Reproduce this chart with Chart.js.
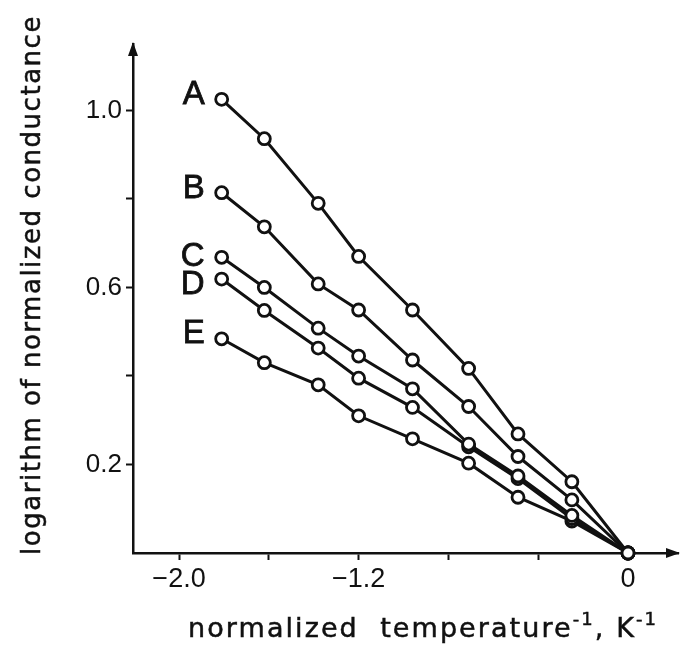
<!DOCTYPE html>
<html>
<head>
<meta charset="utf-8">
<script src="https://cdn.jsdelivr.net/npm/chart.js@4"></script>
<style>
  body { margin: 0; background: #fff; }
  #wrap { width: 700px; height: 661px; position: relative; }
</style>
</head>
<body>
<div id="wrap"><canvas id="chart"></canvas></div>
<script>
// values
const xValues = [-1.81, -1.62, -1.38, -1.20, -0.96, -0.71, -0.49, -0.25, 0];
const seriesNames = ["A", "B", "C", "D", "E"];
const seriesA = [1.025, 0.936, 0.790, 0.670, 0.549, 0.417, 0.269, 0.161, 0];
const seriesB = [0.814, 0.737, 0.608, 0.549, 0.436, 0.331, 0.218, 0.120, 0];
const seriesC = [0.668, 0.600, 0.508, 0.445, 0.371, 0.246, 0.174, 0.085, 0];
const seriesD = [0.619, 0.548, 0.463, 0.395, 0.329, 0.240, 0.168, 0.078, 0];
const seriesE = [0.484, 0.430, 0.380, 0.310, 0.258, 0.203, 0.126, 0.072, 0];

const xTickValues = [-2.0, -1.6, -1.2, -0.8, -0.4, 0];
const xTickLabels = ["\u22122.0", "", "\u22121.2", "", "", "0"];
const yTickValues = [0.2, 0.4, 0.6, 0.8, 1.0];
const yTickLabels = ["0.2", "", "0.6", "", "1.0"];

const yTitle = "logarithm of normalized conductance";
const xTitle = ["normalized  temperature", "-1", ", K", "-1"];

// nudges for the A..E letters (px)
const letterNudge = [-4, -4, 0, 6, -5];

const allSeries = [seriesA, seriesB, seriesC, seriesD, seriesE];
const ink = "#111";
const font = "'Liberation Sans', Arial, sans-serif";
const titleFont = "'DejaVu Sans', sans-serif";

function labelFor(values, labels, v) {
    const i = values.findIndex((t) => Math.abs(t - v) < 1e-6);
    return i < 0 ? "" : labels[i];
}

// draws the A-E letters, axis titles and arrow heads
const decorations = {
    id: "decorations",
    afterDatasetsDraw(chart) {
        const ctx = chart.ctx;
        const area = chart.chartArea;
        ctx.save();
        ctx.fillStyle = ink;
        ctx.strokeStyle = ink;

        // series letters
        ctx.font = "33px " + font;
        ctx.textAlign = "right";
        ctx.textBaseline = "middle";
        ctx.lineWidth = 0.8;
        seriesNames.forEach((name, i) => {
            const pt = chart.getDatasetMeta(i).data[0];
            ctx.fillText(name, pt.x - 17, pt.y + letterNudge[i]);
            ctx.strokeText(name, pt.x - 17, pt.y + letterNudge[i]);
        });

        // arrow heads
        ctx.beginPath();
        ctx.moveTo(area.left, area.top - 2);
        ctx.lineTo(area.left - 5, area.top + 12);
        ctx.lineTo(area.left + 5, area.top + 12);
        ctx.closePath();
        ctx.fill();
        ctx.beginPath();
        ctx.moveTo(area.right + 2, area.bottom);
        ctx.lineTo(area.right - 12, area.bottom - 5);
        ctx.lineTo(area.right - 12, area.bottom + 5);
        ctx.closePath();
        ctx.fill();

        ctx.lineWidth = 0.5;

        // y title, stretched to its length in the picture
        ctx.save();
        ctx.translate(33, 285);
        ctx.rotate(-Math.PI / 2);
        ctx.font = "26px " + titleFont;
        ctx.textAlign = "center";
        ctx.textBaseline = "middle";
        const w0 = ctx.measureText(yTitle).width;
        ctx.letterSpacing = ((540 - w0) / yTitle.length).toFixed(2) + "px";
        ctx.fillText(yTitle, 0, 0);
        ctx.strokeText(yTitle, 0, 0);
        ctx.restore();

        // x title with superscripts
        const sizes = [27, 18, 27, 18];
        const rise = [0, 12, 0, 12];
        ctx.textAlign = "left";
        ctx.textBaseline = "alphabetic";
        let total = 0, chars = 0;
        xTitle.forEach((s, i) => {
            ctx.font = sizes[i] + "px " + titleFont;
            total += ctx.measureText(s).width;
            chars += s.length;
        });
        ctx.letterSpacing = ((470 - total) / chars).toFixed(2) + "px";
        let x = 188;
        xTitle.forEach((s, i) => {
            ctx.font = sizes[i] + "px " + titleFont;
            ctx.fillText(s, x, 637 - rise[i]);
            ctx.strokeText(s, x, 637 - rise[i]);
            x += ctx.measureText(s).width;
        });
        ctx.restore();
    },
};

const ctx = document.getElementById("chart").getContext("2d");
new Chart(ctx, {
    type: "line",
    data: {
        datasets: allSeries.map((vals, i) => ({
            label: seriesNames[i],
            data: vals.map((y, j) => ({ x: xValues[j], y: y })),
            borderColor: ink,
            borderWidth: 3,
            pointRadius: 6,
            pointBorderWidth: 2.8,
            pointBackgroundColor: "#fff",
            pointBorderColor: ink,
            fill: false,
            tension: 0,
            clip: false,
        })),
    },
    options: {
        responsive: true,
        maintainAspectRatio: false,
        animation: false,
        layout: { padding: { left: 0, right: 22, top: 44, bottom: 0 } },
        plugins: {
            legend: { display: false },
            tooltip: { enabled: false },
        },
        scales: {
            x: {
                type: "linear",
                min: -2.205,
                max: 0.2227,
                afterBuildTicks: (scale) => {
                    scale.ticks = xTickValues.map((v) => ({ value: v }));
                },
                afterFit: (scale) => {
                    scale.height = 108;
                },
                grid: {
                    display: true,
                    drawOnChartArea: false,
                    drawTicks: true,
                    tickLength: 7,
                    tickColor: ink,
                    tickWidth: 2,
                },
                border: { display: true, color: ink, width: 2.5 },
                ticks: {
                    color: ink,
                    padding: 3,
                    maxRotation: 0,
                    autoSkip: false,
                    font: { family: font, size: 27 },
                    callback: (v) => labelFor(xTickValues, xTickLabels, v),
                },
            },
            y: {
                type: "linear",
                min: 0,
                max: 1.15,
                afterBuildTicks: (scale) => {
                    scale.ticks = yTickValues.map((v) => ({ value: v }));
                },
                afterFit: (scale) => {
                    scale.width = 133;
                },
                grid: {
                    display: true,
                    drawOnChartArea: false,
                    drawTicks: true,
                    tickLength: 7,
                    tickColor: ink,
                    tickWidth: 2,
                },
                border: { display: true, color: ink, width: 2.5 },
                ticks: {
                    color: ink,
                    padding: 4,
                    autoSkip: false,
                    font: { family: font, size: 26 },
                    callback: (v) => labelFor(yTickValues, yTickLabels, v),
                },
            },
        },
    },
    plugins: [decorations],
});
</script>
</body>
</html>
